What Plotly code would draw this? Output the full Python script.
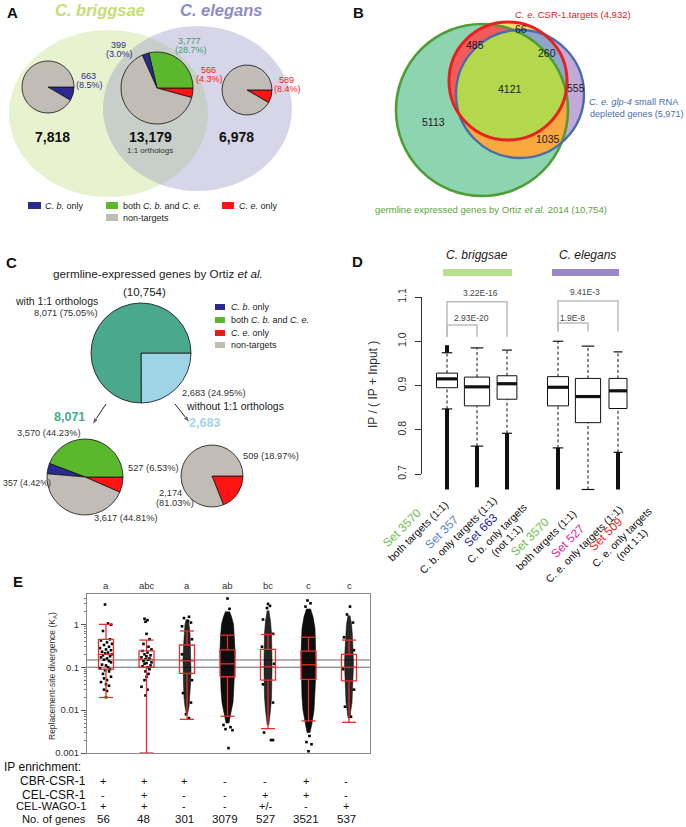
import numpy as np
import plotly.graph_objects as go

W, H = 686, 827
FONT = "Liberation Sans, Arial, Helvetica, sans-serif"

# ===================== DATA =====================
# Panel A : CSR-1 target classes
a_totals = [7818, 13179, 6978]          # C. briggsae-specific, 1:1 orthologs, C. elegans-specific
a_cb_only = [663, 399, 0]
a_both = [0, 3777, 0]
a_ce_only = [0, 566, 589]

# Panel B : Venn region counts
b_germ_only = 5113
b_germ_csr = 485
b_csr_only = 66
b_csr_glp = 260
b_all3 = 4121
b_glp_only = 555
b_germ_glp = 1035
b_set_sizes = [10754, 4932, 5971]       # germline, CSR-1 targets, glp-4 depleted

# Panel C
c_total = 10754
c_with = 8071
c_without = 2683
c_with_classes = [527, 3570, 357, 3617]   # C.e. only, both, C.b. only, non-targets
c_without_classes = [509, 2174]           # C.e. only, non-targets

# Panel D : IP / (IP + input) box statistics
d_set_names = ["Set 3570", "Set 357", "Set 663", "Set 3570", "Set 527", "Set 509"]
d_set_desc = ["both targets (1:1)", "C. b. only targets (1:1)", "C. b. only targets|(not 1:1)",
              "both targets (1:1)", "C. e. only targets (1:1)", "C. e. only targets|(not 1:1)"]
d_upper = [0.974, 0.985, 0.980, 1.000, 0.989, 0.976]
d_q3 = [0.928, 0.919, 0.922, 0.920, 0.916, 0.916]
d_median = [0.915, 0.897, 0.904, 0.896, 0.875, 0.888]
d_q1 = [0.895, 0.854, 0.869, 0.854, 0.816, 0.848]
d_lower = [0.847, 0.763, 0.792, 0.759, 0.665, 0.749]
d_out_min = [0.665, 0.670, 0.665, 0.665, None, 0.665]
d_out_max = [0.991, None, None, None, None, None]
d_pvalues = ["3.22E-16", "2.93E-20", "9.41E-3", "1.9E-8"]
d_yticks = [0.7, 0.8, 0.9, 1.0, 1.1]

# Panel E : replacement-site divergence (KA)
e_letters = ["a", "abc", "a", "ab", "bc", "c", "c"]
e_cbr_csr1 = ["+", "+", "+", "-", "-", "+", "-"]
e_cel_csr1 = ["-", "+", "-", "-", "+", "+", "-"]
e_cel_wago1 = ["+", "+", "-", "-", "+/-", "-", "+"]
e_n_genes = [56, 48, 301, 3079, 527, 3521, 537]
e_upper = [1.0, 0.43, 0.70, 0.56, 0.58, 0.50, 0.43]
e_q3 = [0.446, 0.24, 0.33, 0.255, 0.26, 0.238, 0.20]
e_median = [0.20, 0.152, 0.141, 0.12, 0.102, 0.114, 0.100]
e_q1 = [0.090, 0.100, 0.0716, 0.060, 0.050, 0.052, 0.048]
e_lower = [0.0197, 0.001, 0.0061, 0.0072, 0.0037, 0.0056, 0.0052]
e_ref_lines = [0.1, 0.148]
# individually visible points (values, horizontal jitter in px)
e_pts_1 = [2.9, 1.05, 0.98, 0.7, 0.45, 0.42, 0.38, 0.35, 0.33, 0.3, 0.28, 0.26, 0.25, 0.23, 0.22, 0.21,
           0.2, 0.19, 0.18, 0.17, 0.16, 0.15, 0.14, 0.13, 0.115, 0.11, 0.1, 0.095, 0.09, 0.085, 0.08,
           0.07, 0.06, 0.055, 0.05, 0.045, 0.04, 0.037, 0.03, 0.028, 0.02]
e_jit_1 = [-1, 2, 5, -3, 4, -5, 1, 6, -2, 3, -6, 0, 5, -4, 2, -1, 6, -3, 4, -5, 1, -2, 3, 5, -4, 0, 2,
           -6, 4, -1, 3, -3, 5, -2, 1, -5, 0, 3, -2, 1, 0]
e_pts_2 = [1.35, 1.25, 1.15, 0.6, 0.45, 0.35, 0.3, 0.26, 0.24, 0.22, 0.2, 0.19, 0.18, 0.17, 0.16, 0.155,
           0.15, 0.14, 0.13, 0.125, 0.12, 0.11, 0.105, 0.1, 0.09, 0.08, 0.07, 0.06, 0.05, 0.035, 0.03, 0.022]
e_jit_2 = [-2, 1, -1, 0, 3, -3, 2, 5, -4, 1, -2, 4, 0, -5, 3, -1, 2, -3, 5, 0, -2, 4, -4, 1, 3, -1, 2,
           0, -2, -5, 1, -1]
e_pts_extra = [[], [],
               [1.5, 1.4, 1.2, 1.1, 0.9, 0.45, 0.2, 0.05, 0.025, 0.015, 0.008, 0.0065],
               [4.0, 2.3, 0.0045, 0.004, 0.0036, 0.0034, 0.0013],
               [3.0, 2.7, 2.4, 1.3, 0.6, 0.3, 0.12, 0.04, 0.015, 0.003, 0.002, 0.002],
               [3.6, 3.1, 2.6, 0.0025, 0.0018, 0.0016, 0.0011],
               [2.6, 1.7, 1.1, 0.5, 0.25, 0.09, 0.03, 0.012, 0.008, 0.007]]
e_jit_extra = [[], [],
               [2, -3, 1, 4, -5, 5, -5, 5, -4, 4, -1, 2],
               [0, 2, -4, 3, -2, 5, 1],
               [0, 2, -1, -5, 5, -6, 6, -5, 5, -4, 3, 5],
               [-1, 2, -3, 1, -2, 3, 0],
               [1, -2, 4, -5, 5, -6, 5, -4, 0, 2]]
# dense point clouds: value levels and estimated half-spread (px)
e_cloud_levels = [None, None,
                  [1.3, 1.0, 0.6, 0.3, 0.15, 0.08, 0.04, 0.02, 0.012, 0.0085],
                  [2.0, 1.5, 1.0, 0.5, 0.25, 0.12, 0.06, 0.03, 0.015, 0.009, 0.005],
                  [2.1, 1.2, 0.6, 0.3, 0.15, 0.08, 0.04, 0.02, 0.01, 0.006, 0.0045],
                  [2.3, 1.5, 0.8, 0.4, 0.2, 0.1, 0.05, 0.02, 0.01, 0.005, 0.003],
                  [1.6, 1.0, 0.5, 0.25, 0.12, 0.06, 0.03, 0.015, 0.009, 0.0065]]
e_cloud_spread = [None, None,
                  [0.8, 2, 3, 3.5, 4, 4, 3.5, 3, 2, 0.8],
                  [2, 4, 6, 7, 7.5, 7.5, 7, 6.5, 5.5, 3.5, 1.5],
                  [0.8, 2.5, 3.5, 4, 4, 4, 4, 3.5, 2.5, 1.5, 0.8],
                  [2, 4.5, 6.5, 7, 7.5, 7.5, 7, 6.5, 5.5, 3.5, 1.5],
                  [1, 2.5, 3.5, 4, 4.5, 4, 3.5, 3, 1.5, 0.8]]

# ===================== STYLE =====================
C_CB, C_BOTH, C_CE, C_NON = "#2b2a8e", "#5bb82d", "#ff1414", "#c1bdb6"

fig = go.Figure()
shapes, ann = [], []


def T(x, y, text, size=10, color="#222", xa="center", ya="middle", angle=0, xref="x", yref="y"):
    ann.append(dict(x=x, y=y, xref=xref, yref=yref, text=text, showarrow=False,
                    font=dict(size=size, color=color, family=FONT), xanchor=xa, yanchor=ya,
                    textangle=angle))


def box(x0, y0, x1, y1, color, line=None, lw=0):
    shapes.append(dict(type="rect", xref="x", yref="y", x0=x0, y0=y0, x1=x1, y1=y1, fillcolor=color,
                       line=dict(color=line or color, width=lw), layer="below"))


def pie_domain(cx, cy, r):
    return dict(x=[(cx - r) / W, (cx + r) / W], y=[1 - (cy + r) / H, 1 - (cy - r) / H])


def add_pie(cx, cy, r, values, colors, direction="counterclockwise"):
    fig.add_trace(go.Pie(values=values, marker=dict(colors=colors, line=dict(color="#111", width=0.8)),
                         domain=pie_domain(cx, cy, r), sort=False, direction=direction, rotation=90,
                         textinfo="none", hoverinfo="skip", showlegend=False))


def pct(v, tot, nd):
    return f"({100 * v / tot:.{nd}f}%)"


def arrow(xs, ys):
    fig.add_trace(go.Scatter(x=xs, y=ys, mode="lines+markers", xaxis="x", yaxis="y",
                             line=dict(color="#222", width=1),
                             marker=dict(symbol="arrow", angleref="previous", size=[0, 8], color="#222"),
                             hoverinfo="skip", showlegend=False))


# canvas subplot (pixel coordinates)
fig.add_trace(go.Scatter(x=[0], y=[0], mode="markers", marker=dict(opacity=0), xaxis="x", yaxis="y",
                         hoverinfo="skip", showlegend=False))

# ===================== PANEL A =====================
T(12, 12, "<b>A</b>", 15, "#111")
T(100, 10, "<b><i>C. briggsae</i></b>", 16.5, "#c4de72")
T(221, 10, "<b><i>C. elegans</i></b>", 16.5, "#8f8cc6")
shapes.append(dict(type="circle", xref="x", yref="y", x0=9, x1=208, y0=30, y1=197,
                   fillcolor="rgba(200,225,140,0.42)", line=dict(width=0), layer="below"))
shapes.append(dict(type="circle", xref="x", yref="y", x0=103, x1=292, y0=26, y1=191,
                   fillcolor="rgba(145,140,190,0.36)", line=dict(width=0), layer="below"))

a_pies = [(48, 87, 26), (157, 88, 36), (247, 90, 25)]
for i, (cx, cy, r) in enumerate(a_pies):
    rest = a_totals[i] - a_cb_only[i] - a_both[i] - a_ce_only[i]
    vals, cols = [], []
    for v, c in [(a_ce_only[i], C_CE), (a_both[i], C_BOTH), (a_cb_only[i], C_CB), (rest, C_NON)]:
        if v > 0:
            vals.append(v)
            cols.append(c)
    add_pie(cx, cy, r, vals, cols)

a_lab = [  # (value, total, color, x, y)
    (a_cb_only[0], a_totals[0], C_CB, 88, 76),
    (a_cb_only[1], a_totals[1], C_CB, 118, 45),
    (a_both[1], a_totals[1], "#3a9e78", 189, 41),
    (a_ce_only[1], a_totals[1], C_CE, 208, 70),
    (a_ce_only[2], a_totals[2], C_CE, 286, 80),
]
for v, tot, col, x, y in a_lab:
    T(x, y, f"{v:,}", 9, col)
    T(x + 1.5, y + 8.5, pct(v, tot, 1), 9, col)

for (cx, _, _), tot in zip(a_pies, a_totals):
    T(cx + (4 if cx < 100 else (-7 if cx < 200 else -11)), 137, f"<b>{tot:,}</b>", 14, "#111")
T(150, 150, "1:1 orthologs", 8, "#333")

box(28, 202, 41, 209, C_CB)
T(43, 205.5, "<i>C. b.</i> only", 9, "#222", xa="left")
box(106, 202, 118, 209, C_BOTH)
T(121, 205.5, "both <i>C. b.</i> and <i>C. e.</i>", 9, "#222", xa="left")
box(222, 202, 234, 209, C_CE)
T(237, 205.5, "<i>C. e.</i> only", 9, "#222", xa="left")
box(106, 214, 118, 221, C_NON)
T(121, 217.5, "non-targets", 9, "#222", xa="left")

# ===================== PANEL B =====================
T(358, 12.5, "<b>B</b>", 15, "#111")
germ, csr, glp = (482, 110, 86), (508, 81, 59), (520, 94, 64)


def circ_shape(c, fill=None, line=None, lw=0):
    cx, cy, r = c
    return dict(type="circle", xref="x", yref="y", x0=cx - r, x1=cx + r, y0=cy - r, y1=cy + r,
                fillcolor=fill or "rgba(0,0,0,0)", line=dict(color=line or "rgba(0,0,0,0)", width=lw),
                layer="below")


def inter_path(cs):
    pts = []
    t = np.linspace(0, 2 * np.pi, 900, endpoint=False)
    for i, (cx, cy, r) in enumerate(cs):
        p = np.c_[cx + r * np.cos(t), cy + r * np.sin(t)]
        m = np.ones(len(p), bool)
        for j, (dx, dy, dr) in enumerate(cs):
            if j != i:
                m &= (p[:, 0] - dx) ** 2 + (p[:, 1] - dy) ** 2 <= dr ** 2 + 1e-6
        pts.append(p[m])
    P = np.vstack(pts)
    ctr = P.mean(0)
    P = P[np.argsort(np.arctan2(P[:, 1] - ctr[1], P[:, 0] - ctr[0]))]
    return "M " + " L ".join(f"{x:.2f},{y:.2f}" for x, y in P) + " Z"


def path_shape(path, fill):
    return dict(type="path", xref="x", yref="y", path=path, fillcolor=fill, line=dict(width=0), layer="below")


shapes += [circ_shape(germ, "#8dd4b1"), circ_shape(glp, "#c2a9d7"), circ_shape(csr, "#f6d66e"),
           path_shape(inter_path([csr, glp]), "#8ea5cc"),
           path_shape(inter_path([csr, germ]), "#f15b5b"),
           path_shape(inter_path([glp, germ]), "#f9a93e"),
           path_shape(inter_path([csr, glp, germ]), "#b3d84b"),
           circ_shape(germ, line="#4e9e36", lw=2.6),
           circ_shape(glp, line="#4a6cae", lw=2.4),
           circ_shape(csr, line="#e8211e", lw=3)]
b_labels = [(b_germ_only, 433, 122), (b_all3, 510, 89), (b_germ_csr, 475, 45), (b_csr_only, 521, 29),
            (b_csr_glp, 547, 53), (b_glp_only, 576, 88), (b_germ_glp, 548, 139)]
for v, x, y in b_labels:
    T(x, y, str(v), 10.5, "#1a1a1a")
T(573, 14, f"<i>C. e.</i> CSR-1.targets ({b_set_sizes[1]:,})", 9.5, "#e8211e")
T(587, 101.5, "<i>C. e. glp-4</i> small RNA", 9.3, "#4a6cae", xa="left")
T(588, 113.5, f"depleted genes ({b_set_sizes[2]:,})", 9.1, "#4a6cae", xa="left")
T(491, 209.5, f"germline expressed genes by Ortiz <i>et al.</i> 2014 ({b_set_sizes[0]:,})", 9.5, "#5aa43a")

# ===================== PANEL C =====================
T(11, 262, "<b>C</b>", 15, "#111")
T(158, 273, "germline-expressed genes by Ortiz <i>et al.</i>", 11.7, "#222")
T(144, 292, f"({c_total:,})", 11.5, "#222")
T(13, 301, "with 1:1 orthologs", 10.5, "#222", xa="left")
C_TEAL, C_LBLUE = "#4aa98d", "#9fd3e6"
add_pie(141, 353, 50, [c_without, c_with], [C_LBLUE, C_TEAL], direction="clockwise")
T(100, 313, f"{c_with:,} {pct(c_with, c_total, 2)}", 9.3, "#333", xa="right")
T(180, 393, f"{c_without:,} {pct(c_without, c_total, 2)}", 9.3, "#333", xa="left")
T(184, 406, "without 1:1 orthologs", 10.5, "#222", xa="left")
T(69, 417, f"<b>{c_with:,}</b>", 12.5, "#3fae8c")
T(204, 423, f"<b>{c_without:,}</b>", 12.5, "#a3d5ec")
arrow([106, 92], [404, 425])
arrow([175, 190], [404, 423])
add_pie(85, 477, 38, c_with_classes, [C_CE, C_BOTH, C_CB, C_NON])
add_pie(212, 476, 31, c_without_classes, [C_CE, C_NON])
T(83, 433, f"{c_with_classes[1]:,} {pct(c_with_classes[1], c_with, 2)}", 9.3, "#333", xa="right")
T(126, 468, f"{c_with_classes[0]:,} {pct(c_with_classes[0], c_with, 2)}", 9.3, "#333", xa="left")
T(0.5, 483, f"{c_with_classes[2]:,} {pct(c_with_classes[2], c_with, 2)}", 8.8, "#333", xa="left")
T(92, 518, f"{c_with_classes[3]:,} {pct(c_with_classes[3], c_with, 2)}", 9.3, "#333", xa="left")
T(241, 456, f"{c_without_classes[0]:,} {pct(c_without_classes[0], c_without, 2)}", 9.3, "#333", xa="left")
T(170, 493, f"{c_without_classes[1]:,}", 9.3, "#333")
T(175, 503, pct(c_without_classes[1], c_without, 2), 9.3, "#333")
for yy, c, lab in [(307, C_CB, "<i>C. b.</i> only"), (320, C_BOTH, "both <i>C. b.</i> and <i>C. e.</i>"),
                   (333, C_CE, "<i>C. e.</i> only"), (345, C_NON, "non-targets")]:
    box(215, yy - 3, 225, yy + 3, c)
    T(229, yy, lab, 9, "#222", xa="left")

# ===================== PANEL D =====================
T(357, 261, "<b>D</b>", 15, "#111")
T(477, 255, "<i>C. briggsae</i>", 12, "#222")
T(587, 255, "<i>C. elegans</i>", 12, "#222")
box(443, 269, 512, 276, "#b7e08a")
box(552, 269, 619, 276, "#9a87c8")
T(373, 385, "IP / ( IP + Input )", 12, "#333", angle=-90)

d_pos = [1, 2, 3, 4.7, 5.7, 6.7]
d_halfw = [0.35, 0.42, 0.33, 0.35, 0.42, 0.30]
fig.add_trace(go.Scatter(x=[0.5], y=[0.9], mode="markers", marker=dict(opacity=0), xaxis="x2", yaxis="y2",
                         hoverinfo="skip", showlegend=False))


def dline(xs, ys, color="#111", width=1, dash=None, ax=("x2", "y4")):
    fig.add_trace(go.Scatter(x=xs, y=ys, mode="lines", line=dict(color=color, width=width, dash=dash),
                             xaxis=ax[0], yaxis=ax[1], hoverinfo="skip", showlegend=False))


for i, p in enumerate(d_pos):
    w = d_halfw[i]
    dline([p, p], [d_q3[i], d_upper[i]], dash="3px,2.5px")
    dline([p, p], [d_lower[i], d_q1[i]], dash="3px,2.5px")
    dline([p - w / 2, p + w / 2], [d_upper[i]] * 2, width=1.2)
    dline([p - w / 2, p + w / 2], [d_lower[i]] * 2, width=1.2)
    fig.add_trace(go.Scatter(x=[p - w, p + w, p + w, p - w, p - w],
                             y=[d_q1[i], d_q1[i], d_q3[i], d_q3[i], d_q1[i]], mode="lines", fill="toself",
                             fillcolor="white", line=dict(color="#111", width=1), xaxis="x2", yaxis="y4",
                             hoverinfo="skip", showlegend=False))
    dline([p - w, p + w], [d_median[i]] * 2, width=3.2)
    if d_out_min[i] is not None:
        dline([p, p], [d_lower[i], d_out_min[i]], width=4)
    if d_out_max[i] is not None:
        dline([p, p], [d_upper[i], d_out_max[i]], width=4)

brackets = [(1, 3, 1.089, 1.010, 2.1, 1.109), (1, 2, 1.037, 1.010, 1.8, 1.052),
            (4.7, 6.7, 1.091, 1.022, 5.6, 1.111), (4.7, 5.7, 1.041, 1.022, 5.17, 1.052)]
for (x0, x1, yt, yb, tx, ty), pv in zip(brackets, d_pvalues):
    dline([x0, x0, x1, x1], [yb, yt, yt, yb], color="#bdbdbd", width=1.5)
    T(tx, ty, pv, 8.5, "#444", xref="x2", yref="y4")

d_name_colors = ["#6cc04a", "#5b80d6", "#2e1f9e", "#6cc04a", "#e0259b", "#ff2020"]
d_name_xy = [(402, 528), (442, 532), (481, 530), (530, 537), (568, 541), (606, 534)]
N_DIR = np.array([0.7071, 0.7071])   # next-line direction for -45 deg text
U_DIR = np.array([0.7071, -0.7071])  # reading direction
d_line_offsets = [(13.5, 9), (25.5, 11)]
for i in range(6):
    T(d_name_xy[i][0], d_name_xy[i][1], d_set_names[i], 12, d_name_colors[i], angle=-45)
    for part, (dn, du) in zip(d_set_desc[i].split("|"), d_line_offsets):
        pxy = np.array(d_name_xy[i]) + dn * N_DIR + du * U_DIR
        T(float(pxy[0]), float(pxy[1]), part, 10.5, "#111", angle=-45)

# ===================== PANEL E =====================
T(18, 581, "<b>E</b>", 15, "#111")
T(52, 676, "Replacement-site divergence (K<sub>A</sub>)", 8.5, "#333", angle=-90)
E_RED = "#e3302d"
PXU = 40.5  # px per category unit
e_pos = list(range(1, 8))

for yv in e_ref_lines:
    shapes.append(dict(type="line", xref="x3 domain", yref="y3", x0=0, x1=1, y0=yv, y1=yv,
                       line=dict(color="#6b6b6b", width=1), layer="below"))

for i, p in enumerate(e_pos):
    if e_cloud_levels[i] is not None:
        lv, sp = e_cloud_levels[i], e_cloud_spread[i]
        xs = [p + s / PXU for s in sp] + [p - s / PXU for s in sp[::-1]]
        ys = lv + lv[::-1]
        op = 0.95 if e_n_genes[i] > 2000 else 0.85
        fig.add_trace(go.Scatter(x=xs, y=ys, mode="lines", fill="toself",
                                 fillcolor=f"rgba(0,0,0,{op})", line=dict(width=0.6, color=f"rgba(0,0,0,{op})"),
                                 xaxis="x3", yaxis="y3", hoverinfo="skip", showlegend=False))
pts_sets = [(e_pts_1, e_jit_1), (e_pts_2, e_jit_2)] + [(None, None)] * 5
for i, p in enumerate(e_pos):
    vals, jit = [], []
    if pts_sets[i][0] is not None:
        vals += pts_sets[i][0]
        jit += pts_sets[i][1]
    vals += e_pts_extra[i]
    jit += e_jit_extra[i]
    if vals:
        fig.add_trace(go.Scatter(x=[p + j / PXU for j in jit], y=vals, mode="markers",
                                 marker=dict(size=2.6, color="#000", symbol="square"),
                                 xaxis="x3", yaxis="y3", hoverinfo="skip", showlegend=False))

bw, cw = 7.5 / PXU, 7 / PXU
for i, p in enumerate(e_pos):
    ax = ("x3", "y3")
    dline([p, p], [e_q3[i], e_upper[i]], color=E_RED, width=1.3, ax=ax)
    dline([p, p], [e_lower[i], e_q1[i]], color=E_RED, width=1.3, ax=ax)
    dline([p - cw, p + cw], [e_upper[i]] * 2, color=E_RED, width=1.3, ax=ax)
    dline([p - cw, p + cw], [e_lower[i]] * 2, color=E_RED, width=1.3, ax=ax)
    dline([p - bw, p + bw, p + bw, p - bw, p - bw], [e_q1[i], e_q1[i], e_q3[i], e_q3[i], e_q1[i]],
          color=E_RED, width=1.3, ax=ax)
    dline([p - bw, p + bw], [e_median[i]] * 2, color=E_RED, width=1.3, ax=ax)
    T(p, 585, e_letters[i], 9.5, "#333", xref="x3")
    T(p - 0.07, 781, e_cbr_csr1[i], 11, "#111", xref="x3")
    T(p - 0.07, 794.5, e_cel_csr1[i], 11, "#111", xref="x3")
    T(p - 0.07, 806, e_cel_wago1[i], 11, "#111", xref="x3")
    T(p - 0.07, 818.5, str(e_n_genes[i]), 11.5, "#111", xref="x3")

T(2, 767, "IP enrichment:", 12, "#111", xa="left")
for lab, yy, fs in [("CBR-CSR-1", 781, 12), ("CEL-CSR-1", 794.5, 12), ("CEL-WAGO-1", 806, 11.2),
                    ("No. of genes", 819, 11.2)]:
    T(88, yy, lab, fs, "#111", xa="right")

minor_vals = [k * 10.0 ** e for e in (-3, -2, -1, 0) for k in range(2, 10) if k * 10.0 ** e < 5]

fig.update_layout(
    width=W, height=H, margin=dict(l=0, r=0, t=0, b=0, pad=0, autoexpand=False),
    paper_bgcolor="white", plot_bgcolor="rgba(0,0,0,0)", showlegend=False, hovermode=False,
    font=dict(family=FONT),
    xaxis=dict(domain=[0, 1], range=[0, W], visible=False, fixedrange=True, automargin=False),
    yaxis=dict(domain=[0, 1], range=[H, 0], visible=False, fixedrange=True, automargin=False),
    xaxis2=dict(domain=[422 / W, 640 / W], range=[1 - 25 / 30, 1 + 193 / 30], visible=False, anchor="y2",
                automargin=False),
    yaxis2=dict(domain=[1 - 474 / H, 1 - 297 / H], range=[0.7, 1.1], anchor="x2", showline=True,
                linecolor="#333", linewidth=1, ticks="outside", ticklen=6, tickcolor="#333",
                tickvals=d_yticks, ticktext=[f"{v:.1f}" for v in d_yticks], tickangle=-90,
                tickfont=dict(size=10.5, color="#333"), showgrid=False, zeroline=False,
                ticklabelstandoff=5, automargin=False),
    yaxis4=dict(domain=[1 - 495 / H, 1 - 280 / H], range=[0.7 - 21 / 442.5, 1.1 + 17 / 442.5],
                anchor="x2", visible=False, automargin=False),
    xaxis3=dict(domain=[87 / W, 370 / W], range=[1 - 19 / PXU, 7 + 21 / PXU], anchor="y3", showline=True,
                mirror=True, linecolor="#8a8a8a", linewidth=1, ticks="", showticklabels=False,
                showgrid=False, zeroline=False, automargin=False),
    yaxis3=dict(domain=[1 - 753 / H, 1 - 594 / H], type="log", range=[-3, 0.708], anchor="x3",
                showline=True, mirror=True, linecolor="#8a8a8a", linewidth=1, ticks="outside",
                ticklen=5, tickcolor="#555", tickvals=[0.001, 0.01, 0.1, 1],
                ticktext=["0.001", "0.01", "0.1", "1"], tickfont=dict(size=9.5, color="#333"),
                showgrid=False, zeroline=False, automargin=False,
                minor=dict(ticks="outside", ticklen=2.5, tickcolor="#777", tickvals=minor_vals, showgrid=False)),
    shapes=shapes, annotations=ann,
)
fig.write_html("out.html", config={"displayModeBar": False, "staticPlot": True},
               post_script="document.body.style.margin='0';document.body.style.padding='0';")
